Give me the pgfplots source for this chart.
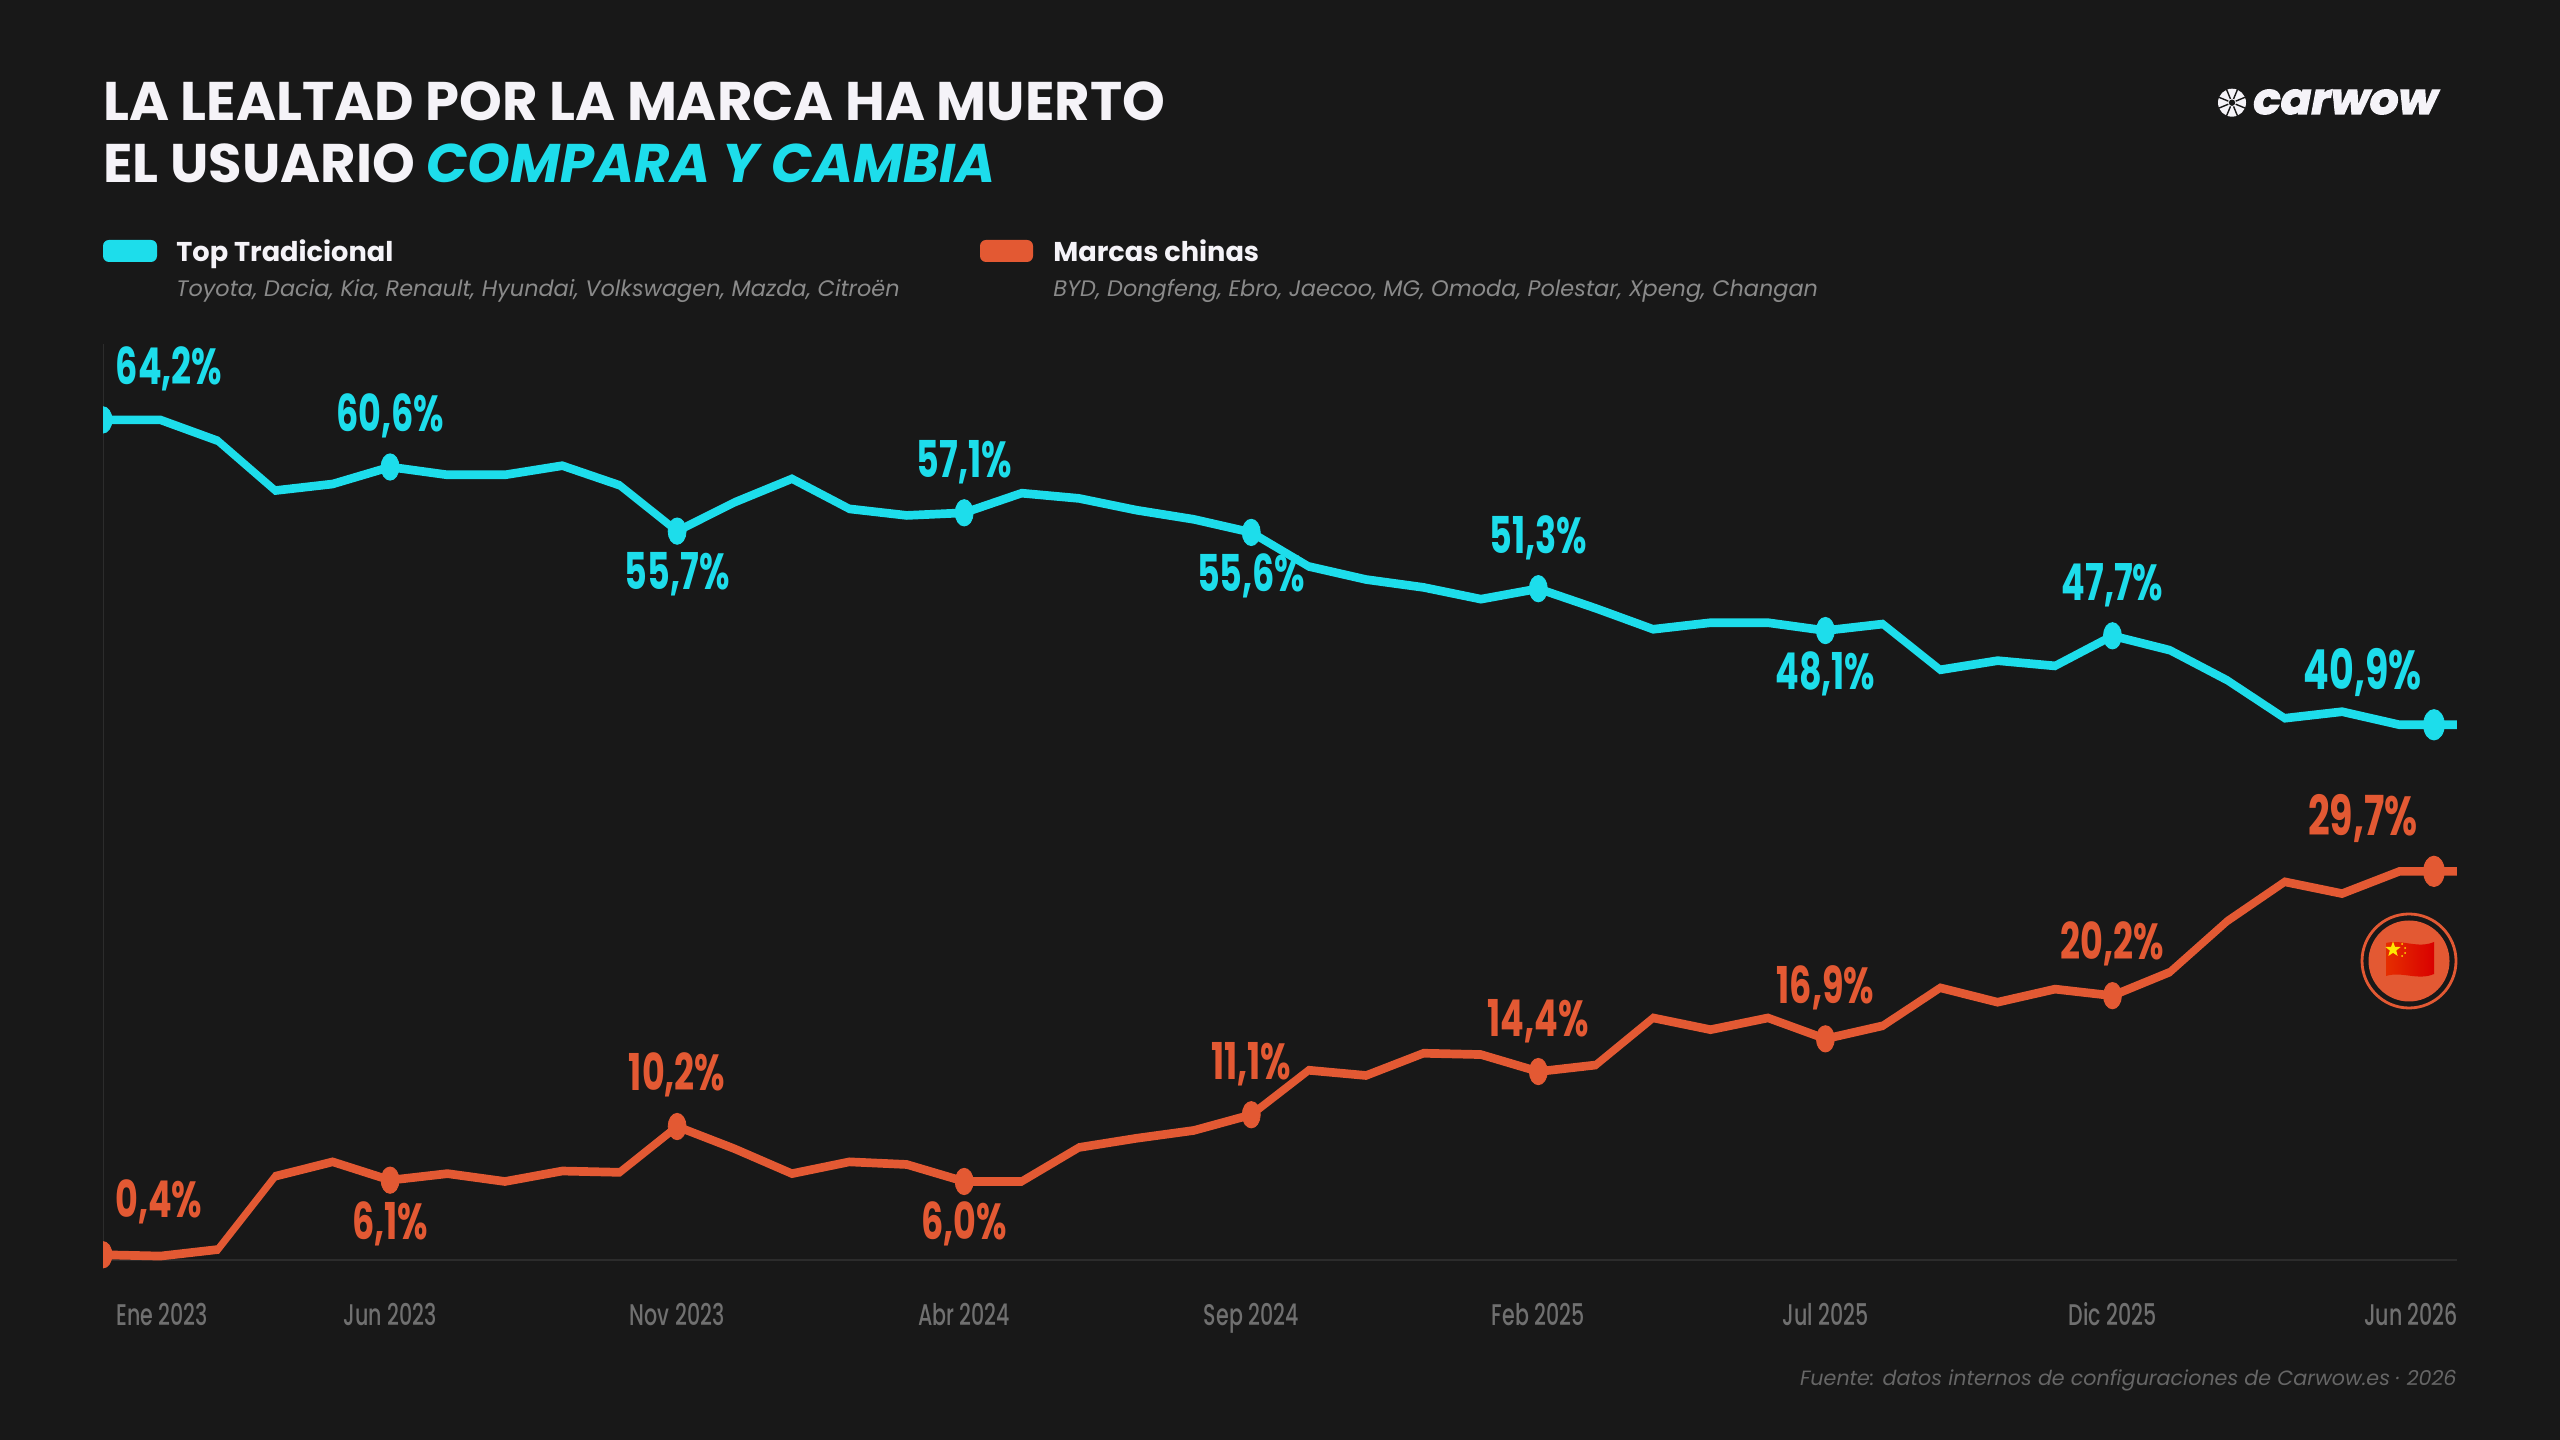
\documentclass[border=0pt]{standalone}
\usepackage{pgfplots}
\usepackage{pgfplotstable}
\pgfplotsset{compat=1.18}
\usepackage{fontspec}
\setmainfont{Poppins}
\newfontfamily\logofont[BoldItalicFeatures={FakeBold=3,FakeStretch=1.05}]{Poppins}
\newfontfamily\tickfont{Poppins Medium}
\usetikzlibrary{shapes.geometric}

\definecolor{bg}{HTML}{181818}
\definecolor{cy}{HTML}{1DDDEB}
\definecolor{og}{HTML}{E35933}
\definecolor{titlewhite}{HTML}{F5F3F8}
\definecolor{subgray}{HTML}{8A8A8A}
\definecolor{tickgray}{HTML}{707070}
\definecolor{footgray}{HTML}{666666}
\definecolor{baseln}{HTML}{2C2C2C}

% monthly share, 0 = Ene 2023
\pgfplotstableread{
i  trad  china
0  64.2  0.4
1  64.2  0.3
2  62.6  0.8
3  58.8  6.4
4  59.3  7.5
5  60.6  6.1
6  60.0  6.6
7  60.0  6.0
8  60.7  6.8
9  59.2  6.7
10 55.7  10.2
11 57.9  8.5
12 59.7  6.6
13 57.4  7.5
14 56.9  7.3
15 57.1  6.0
16 58.6  6.0
17 58.2  8.6
18 57.3  9.3
19 56.6  9.9
20 55.6  11.1
21 53.0  14.5
22 52.0  14.1
23 51.4  15.8
24 50.5  15.7
25 51.3  14.4
26 49.8  14.9
27 48.2  18.5
28 48.7  17.6
29 48.7  18.5
30 48.1  16.9
31 48.6  17.9
32 45.1  20.8
33 45.8  19.7
34 45.4  20.7
35 47.7  20.2
36 46.6  22.0
37 44.3  25.9
38 41.4  28.9
39 41.9  28.0
40 40.9  29.7
41 40.9  29.7
}\shares

\newcommand{\lblfont}{\fontsize{17.5pt}{20pt}\selectfont\bfseries}
\newcommand{\lblbig}{\fontsize{19pt}{20pt}\selectfont\bfseries}

\begin{document}
\begin{tikzpicture}
\fill[bg,use as bounding box] (0,0) rectangle (1280pt,720pt);

% the chart itself is stretched vertically, pen and text too
\begin{scope}[transform canvas={yscale=1.45}]
\begin{axis}[
    at={(51.5pt,48.53pt)},
    anchor=south west,
    scale only axis,
    clip mode=global,
    clip marker paths=true,
    width=1177pt,
    height=329.4pt,
    xmin=0, xmax=41,
    ymin=-3, ymax=70,
    axis line style={draw=none},
    major tick length=0pt,
    ytick=\empty,
    xtick={1.03,5,10,15,20,25,30,35,40.2},
    xticklabels={Ene 2023,Jun 2023,Nov 2023,Abr 2024,Sep 2024,Feb 2025,Jul 2025,Dic 2025,Jun 2026},
    xticklabel style={font=\tickfont\fontsize{10.3pt}{12pt}\selectfont,text=tickgray,anchor=base,yshift=-9.2pt},
]
\addplot[baseln,line width=1pt] coordinates {(0,0) (41,0)};
\addplot[baseln,line width=0.5pt] coordinates {(0,0) (0,70)};

\addplot[cy,line width=3pt] table[x=i,y=trad] {\shares};
\addplot[og,line width=3pt] table[x=i,y=china] {\shares};

\addplot[only marks,mark=*,mark size=4.5pt,cy,mark options={draw=cy,fill=cy}] coordinates {
    (0,64.2) (5,60.6) (10,55.7) (15,57.1) (20,55.6) (25,51.3) (30,48.1) (35,47.7)};
\addplot[only marks,mark=*,mark size=5.2pt,cy,mark options={draw=cy,fill=cy}] coordinates {(40.6,40.9)};
\addplot[only marks,mark=*,mark size=4.5pt,og,mark options={draw=og,fill=og}] coordinates {
    (0,0.4) (5,6.1) (10,10.2) (15,6.0) (20,11.1) (25,14.4) (30,16.9) (35,20.2)};
\addplot[only marks,mark=*,mark size=5.2pt,og,mark options={draw=og,fill=og}] coordinates {(40.6,29.7)};

\tikzset{lbl/.style={anchor=base,inner sep=0pt,font=\lblfont,yshift=-0.5pt}}
\node[lbl,text=cy] at (axis cs:1.15,67.0) {64,2\%};
\node[lbl,text=cy] at (axis cs:5,63.43) {60,6\%};
\node[lbl,text=cy] at (axis cs:10,51.33) {55,7\%};
\node[lbl,text=cy] at (axis cs:15,59.91) {57,1\%};
\node[lbl,text=cy] at (axis cs:20,51.2) {55,6\%};
\node[lbl,text=cy] at (axis cs:25,54.1) {51,3\%};
\node[lbl,text=cy] at (axis cs:30,43.73) {48,1\%};
\node[lbl,text=cy] at (axis cs:35,50.49) {47,7\%};
\node[lbl,text=cy,font=\lblbig] at (axis cs:39.36,43.69) {40,9\%};

\node[lbl,text=og] at (axis cs:0.97,3.39) {0,4\%};
\node[lbl,text=og] at (axis cs:5,1.7) {6,1\%};
\node[lbl,text=og] at (axis cs:10,13.04) {10,2\%};
\node[lbl,text=og] at (axis cs:15,1.66) {6,0\%};
\node[lbl,text=og] at (axis cs:20,13.93) {11,1\%};
\node[lbl,text=og] at (axis cs:25,17.19) {14,4\%};
\node[lbl,text=og] at (axis cs:30,19.75) {16,9\%};
\node[lbl,text=og] at (axis cs:35,23.05) {20,2\%};
\node[lbl,text=og,font=\lblbig] at (axis cs:39.36,32.56) {29,7\%};
\end{axis}
\end{scope}

% everything else in reference pixels, y downward
\begin{scope}[x=0.5pt,y=-0.5pt,shift={(0pt,720pt)}]
\tikzset{tx/.style={anchor=base west,inner sep=0pt}}

\node[tx,text=titlewhite,font=\fontsize{27.2pt}{30pt}\selectfont\bfseries] at (103,121) {LA LEALTAD POR LA MARCA HA MUERTO};
\node[tx,text=titlewhite,font=\fontsize{27.2pt}{30pt}\selectfont\bfseries] at (103,183) {EL USUARIO \textcolor{cy}{\itshape COMPARA Y CAMBIA}};

\fill[cy,rounded corners=3pt] (103,240) rectangle (157,262);
\fill[og,rounded corners=3pt] (980,240) rectangle (1033,262);
\node[tx,text=titlewhite,font=\fontsize{13.6pt}{16pt}\selectfont\bfseries] at (176,261.5) {Top Tradicional};
\node[tx,text=titlewhite,font=\fontsize{13.6pt}{16pt}\selectfont\bfseries] at (1053,261.5) {Marcas chinas};
\node[tx,text=subgray,font=\fontsize{11.2pt}{14pt}\selectfont\itshape] at (176,296.5) {Toyota, Dacia, Kia, Renault, Hyundai, Volkswagen, Mazda, Citroën};
\node[tx,text=subgray,font=\fontsize{11.2pt}{14pt}\selectfont\itshape] at (1053,296.5) {BYD, Dongfeng, Ebro, Jaecoo, MG, Omoda, Polestar, Xpeng, Changan};

\node[anchor=base east,inner sep=0pt,text=footgray,font=\fontsize{10.33pt}{13pt}\selectfont\itshape] at (2457,1385.5) {Fuente: datos internos de configuraciones de Carwow.es · 2026};

% logo
\fill[titlewhite] (2232,102.7) circle (14);
\foreach \a in {22.5,67.5,...,337.5}
  \draw[bg,line width=0.7pt] (2232,102.7) ++(\a:4) -- ++(\a:11);
\fill[bg] (2232,102.7) circle (3.2);
\node[anchor=base west,inner sep=0pt,text=titlewhite] at (2253,114) {\logofont\fontsize{21.5pt}{24pt}\selectfont\bfseries\itshape carwow};

% flag badge
\draw[og,line width=1.4pt] (2409,961) circle (47);
\fill[og] (2409,961) circle (40.5);
\shade[left color=red!60!orange!90!black,right color=red!85!black]
  (2386,943) .. controls (2402,939) and (2418,949) .. (2434,942)
  -- (2434,974) .. controls (2418,981) and (2402,971) .. (2386,976) -- cycle;
\node[star,star points=5,star point ratio=2.4,fill=yellow!90!orange,inner sep=0pt,minimum size=8pt] at (2393,949.5) {};
\foreach \p in {(2402,944),(2405,948),(2405,953),(2402,956)}
  \fill[yellow!80!orange] \p circle (1);
\end{scope}
\end{tikzpicture}
\end{document}
